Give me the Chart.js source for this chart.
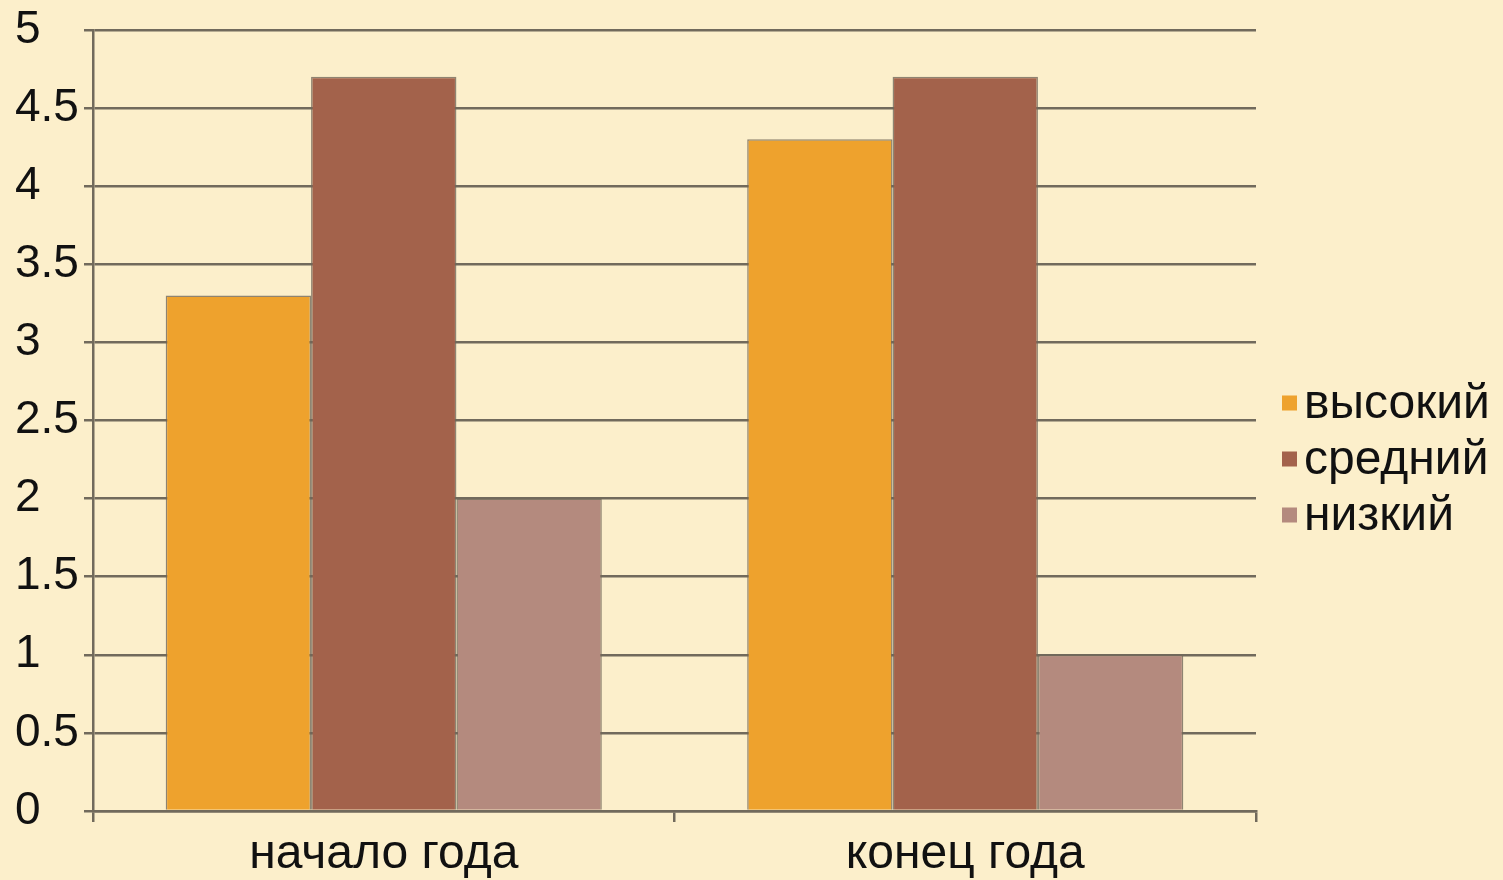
<!DOCTYPE html>
<html>
<head>
<meta charset="utf-8">
<script src="https://cdn.jsdelivr.net/npm/chart.js@4/dist/chart.umd.min.js"></script>
<style>
  html, body { margin: 0; padding: 0; background: #fcefcb; }
  #wrap { width: 1503px; height: 880px; }
</style>
</head>
<body>
<div id="wrap"><canvas id="chart"></canvas></div>
<script>
// data
const categories = ['начало года', 'конец года']
const seriesNames = ['высокий', 'средний', 'низкий']
const highValues = [3.3, 4.3]
const midValues = [4.7, 4.7]
const lowValues = [2.0, 1.0]
const yTickLabels = ['0', '0.5', '1', '1.5', '2', '2.5', '3', '3.5', '4', '4.5', '5']

const colors = ['#eea22d', '#a3624b', '#b48a7e']
const gridColor = '#716a5c'
const fontFamily = "'Liberation Sans', Arial, sans-serif"

// legend drawn to the right of the plot, small squares close to the text
const sideLegend = {
  id: 'sideLegend',
  afterDraw(chart) {
    const { ctx, chartArea } = chart
    const x = chartArea.right + 26
    const midY = (chartArea.top + chartArea.bottom) / 2 + 38
    const step = 56
    ctx.save()
    ctx.font = '48px ' + fontFamily
    ctx.textBaseline = 'middle'
    chart.data.datasets.forEach((ds, i) => {
      const y = midY + (i - 1) * step
      ctx.fillStyle = ds.backgroundColor
      ctx.fillRect(x, y - 7, 15, 15)
      ctx.fillStyle = '#111'
      ctx.fillText(ds.label, x + 22, y + 2)
    })
    ctx.restore()
  }
}

const seriesValues = [highValues, midValues, lowValues]

new Chart(document.getElementById('chart'), {
  type: 'bar',
  data: {
    labels: categories,
    datasets: seriesValues.map((values, i) => ({
      label: seriesNames[i],
      data: values,
      backgroundColor: colors[i],
      borderColor: 'rgba(115, 105, 90, 0.8)',
      borderWidth: 1.5,
      categoryPercentage: 0.75,
      barPercentage: 1
    }))
  },
  options: {
    responsive: true,
    maintainAspectRatio: false,
    animation: false,
    layout: {
      padding: { left: 15, right: 247, top: 30, bottom: 0 }
    },
    plugins: {
      legend: { display: false },
      tooltip: { enabled: false }
    },
    scales: {
      x: {
        offset: true,
        afterFit: (s) => {
          s.height = 69
          s.paddingLeft = 0
          s.paddingRight = 0
        },
        grid: {
          display: true,
          offset: true,
          drawOnChartArea: false,
          drawTicks: true,
          tickLength: 11,
          color: gridColor,
          lineWidth: 2.5
        },
        border: { color: gridColor, width: 2.5 },
        ticks: {
          color: '#111',
          padding: 9,
          font: { family: fontFamily, size: 48, lineHeight: 1.0 }
        }
      },
      y: {
        min: 0,
        max: 5,
        afterFit: (s) => {
          s.width = 78
          s.paddingTop = 0
          s.paddingBottom = 0
        },
        grid: {
          color: gridColor,
          lineWidth: 2.5,
          tickLength: 9
        },
        border: { color: gridColor, width: 2.5 },
        ticks: {
          stepSize: 0.5,
          color: '#111',
          padding: 0,
          crossAlign: 'far',
          font: { family: fontFamily, size: 46, lineHeight: 1.0 },
          callback: (value, index) => yTickLabels[index]
        }
      }
    }
  },
  plugins: [sideLegend]
})
</script>
</body>
</html>
